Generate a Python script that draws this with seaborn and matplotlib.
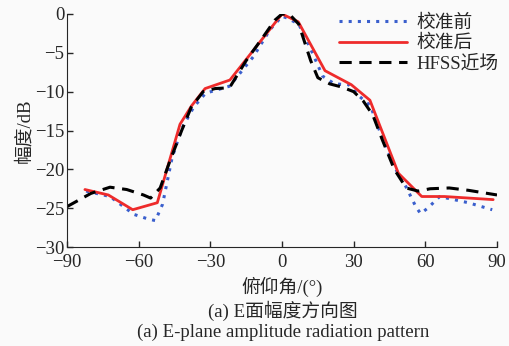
import numpy as np
import pandas as pd
import seaborn as sns
import matplotlib.pyplot as plt

# angle (deg) and amplitude (dB)
ang_before = [-82, -72, -62, -56, -53, -50, -46, -42, -37, -32, -22, -12, -5, 0, 2, 7,
              12, 17, 22, 28, 32, 37, 42, 48, 52, 56, 58, 61, 66, 78, 88]
amp_before = [-22.8, -23.5, -25.8, -26.4, -26.6, -24.5, -18.5, -14.8, -12.0, -10.2, -9.3, -5.5,
              -2.0, -0.3, -0.5, -1.3, -4.5, -8.0, -9.0, -9.1, -10.5, -11.8, -16.0, -20.2,
              -22.3, -24.8, -25.7, -25.0, -23.5, -24.3, -25.2]

ang_after = [-82.5, -72.7, -62.5, -52.2, -42.7, -37.8, -32.2, -21.8, 0, 6.8, 18, 29, 36.8,
             48.7, 58.5, 68, 88.4]
amp_after = [-22.6, -23.3, -25.2, -24.3, -14.2, -11.8, -9.6, -8.5, 0.0, -1.0, -7.3, -9.1,
             -11.1, -20.5, -23.5, -23.5, -23.9]

ang_hfss = [-90, -80, -72, -65, -58, -55, -51, -47, -42, -38, -33, -28, -22, -15, -8, -3,
            0, 3, 7, 12, 15, 20, 25, 30, 34, 38, 42, 47, 52, 57, 62, 70, 78, 86, 90]
amp_hfss = [-24.8, -23.1, -22.3, -22.6, -23.3, -23.7, -22.4, -19.0, -15.0, -12.0, -10.0,
            -9.6, -9.5, -6.0, -3.0, -0.8, 0.0, 0.0, -1.3, -6.0, -8.2, -9.0, -9.4, -10.0,
            -11.2, -13.0, -16.2, -20.0, -22.4, -22.8, -22.5, -22.4, -22.7, -23.1, -23.3]

labels = ['校准前', '校准后', 'HFSS近场']

sns.set_style('ticks')
plt.rcParams['font.family'] = ['Liberation Serif', 'Noto Sans CJK SC']
plt.rcParams['axes.unicode_minus'] = True
plt.rcParams['xtick.direction'] = 'in'
plt.rcParams['ytick.direction'] = 'in'

fig = plt.figure(figsize=(5.1, 3.46), dpi=100, facecolor='#fafafa')
ax = fig.add_axes([67 / 510, 1 - 247 / 346, 430 / 510, 233 / 346])
ax.set_facecolor('#fafafa')

sns.lineplot(x=ang_before, y=amp_before, ax=ax, color='#3a5fcd', lw=2.2,
             linestyle=(0, (1, 2.0)), label=labels[0])
sns.lineplot(x=ang_after, y=amp_after, ax=ax, color='#ee2b2b', lw=2, label=labels[1])
sns.lineplot(x=ang_hfss, y=amp_hfss, ax=ax, color='black', lw=2.2,
             linestyle=(0, (4, 2.5)), label=labels[2])

ax.set_xlim(-90, 90)
ax.set_ylim(-30, 0)
ax.set_xticks([-90, -60, -30, 0, 30, 60, 90])
ax.set_yticks([0, -5, -10, -15, -20, -25, -30])
ax.tick_params(labelsize=13.5, length=4, width=1)
ax.tick_params(axis='x', pad=5)
ax.tick_params(axis='y', pad=2)
sns.despine(ax=ax)
ax.set_xlabel('俯仰角/(°)', fontsize=13.5, labelpad=4)
ax.set_ylabel('幅度/dB', fontsize=13.5, labelpad=1)

ax.legend(loc='upper right', bbox_to_anchor=(1.02, 1.03), frameon=False, fontsize=13.5,
          handlelength=3.6, borderaxespad=0.0, labelspacing=0.15, handletextpad=0.5)

fig.text(283 / 510, 1 - 311 / 346, '(a) E面幅度方向图', ha='center', va='center', fontsize=13.5)
fig.text(283 / 510, 1 - 332 / 346, '(a) E-plane amplitude radiation pattern',
         ha='center', va='center', fontsize=13.5)

fig.savefig('out.png', dpi=100, facecolor=fig.get_facecolor())
